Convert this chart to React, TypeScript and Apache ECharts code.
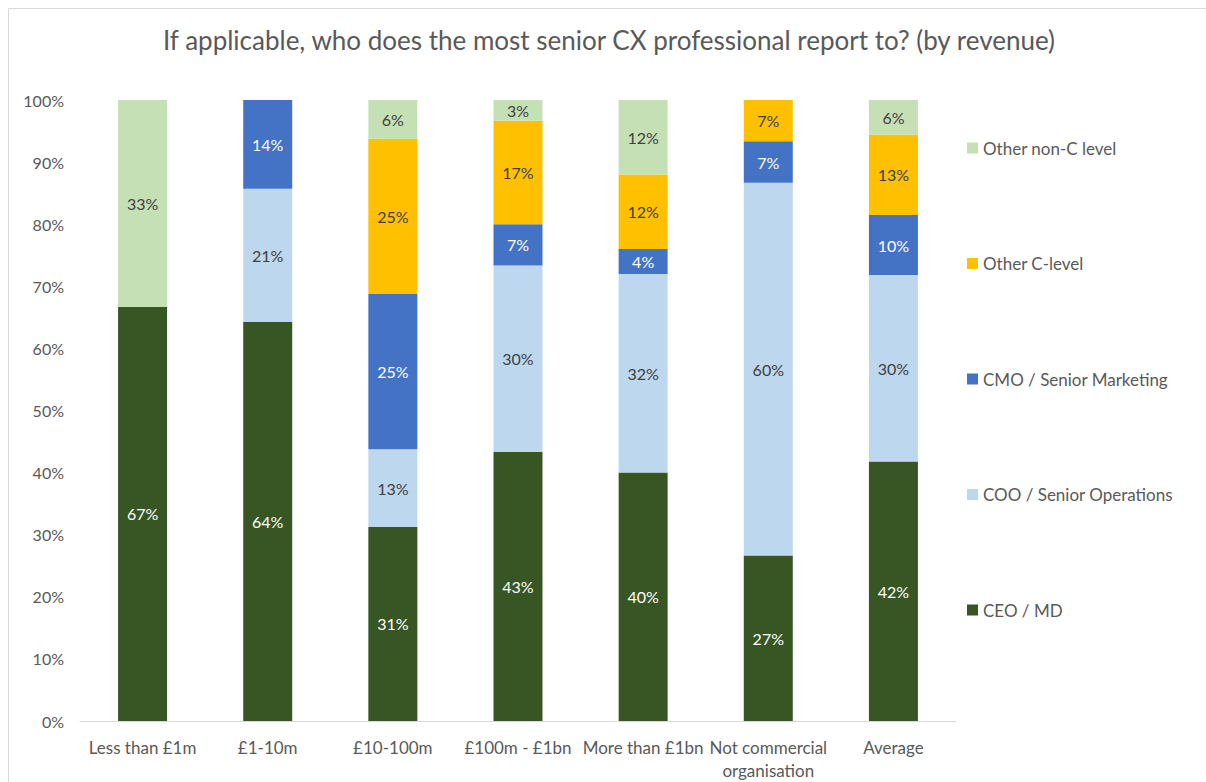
import React, { useEffect, useRef } from "react";
import * as echarts from "echarts";

const title = "If applicable, who does the most senior CX professional report to? (by revenue)";
const categories = [
  "Less than £1m",
  "£1-10m",
  "£10-100m",
  "£100m - £1bn",
  "More than £1bn",
  "Not commercial\norganisation",
  "Average",
];
const seriesNames = [
  "CEO / MD",
  "COO / Senior Operations",
  "CMO / Senior Marketing",
  "Other C-level",
  "Other non-C level",
];
const ceoMd = [66.67, 64.29, 31.25, 43.33, 40, 26.67, 41.8];
const cooOps = [0, 21.43, 12.5, 30, 32, 60, 30.0];
const cmoMarketing = [0, 14.29, 25, 6.67, 4, 6.67, 9.7];
const otherCLevel = [0, 0, 25, 16.67, 12, 6.67, 12.9];
const otherNonC = [33.33, 0, 6.25, 3.33, 12, 0, 5.6];
const yTicks = [0, 10, 20, 30, 40, 50, 60, 70, 80, 90, 100];

const seriesValues = [ceoMd, cooOps, cmoMarketing, otherCLevel, otherNonC];
const colors = ["#375623", "#BDD7EE", "#4472C4", "#FFC000", "#C5E0B4"];
const labelColors = ["#FFFFFF", "#404040", "#FFFFFF", "#404040", "#404040"];
const FONT = "Lato, 'Noto Sans', sans-serif";

export default function App() {
  const ref = useRef<HTMLDivElement>(null);
  useEffect(() => {
    if (!ref.current) return;
    const chart = echarts.init(ref.current, undefined, { renderer: "svg" });
    chart.setOption({
      animation: false,
      backgroundColor: "#FFFFFF",
      textStyle: { fontFamily: FONT },
      graphic: [
        { type: "line", shape: { x1: 8.5, y1: 8.5, x2: 1206, y2: 8.5 }, style: { stroke: "#D9D9D9", lineWidth: 1 } },
        { type: "line", shape: { x1: 8.5, y1: 8.5, x2: 8.5, y2: 782 }, style: { stroke: "#D9D9D9", lineWidth: 1 } },
        {
          type: "text",
          x: 609,
          y: 40,
          style: {
            text: title,
            fontFamily: FONT,
            fontSize: 26,
            fill: "#595959",
            textAlign: "center",
            textVerticalAlign: "middle",
          },
        },
      ],
      legend: {
        orient: "vertical",
        left: 962,
        top: 133,
        itemWidth: 11,
        itemHeight: 11,
        itemGap: 95.5,
        icon: "rect",
        data: [...seriesNames].reverse(),
        textStyle: { fontFamily: FONT, fontSize: 17, color: "#595959", lineHeight: 20 },
      },
      grid: { left: 80, right: 250, top: 100, bottom: 57 },
      xAxis: {
        type: "category",
        data: categories,
        axisLine: { lineStyle: { color: "#D9D9D9", width: 1 } },
        axisTick: { show: false },
        axisLabel: {
          interval: 0,
          fontFamily: FONT,
          fontSize: 17,
          color: "#595959",
          margin: 15,
          lineHeight: 23,
        },
      },
      yAxis: {
        type: "value",
        min: yTicks[0],
        max: yTicks[yTicks.length - 1],
        interval: 10,
        splitLine: { show: false },
        axisLine: { show: false },
        axisTick: { show: false },
        axisLabel: {
          formatter: "{value}%",
          fontFamily: FONT,
          fontSize: 16,
          color: "#595959",
          margin: 16,
        },
      },
      series: seriesNames.map((name, i) => ({
        name,
        type: "bar",
        stack: "total",
        barWidth: 49,
        data: seriesValues[i],
        itemStyle: { color: colors[i] },
        label: {
          show: true,
          position: "inside",
          fontFamily: FONT,
          fontSize: 16,
          color: labelColors[i],
          formatter: (p: any) => (p.value > 0 ? Math.round(p.value) + "%" : ""),
        },
      })),
    });
    return () => chart.dispose();
  }, []);
  return (
    <div
      ref={ref}
      style={{ position: "fixed", left: 0, top: 0, width: 1206, height: 782, background: "#fff" }}
    />
  );
}
